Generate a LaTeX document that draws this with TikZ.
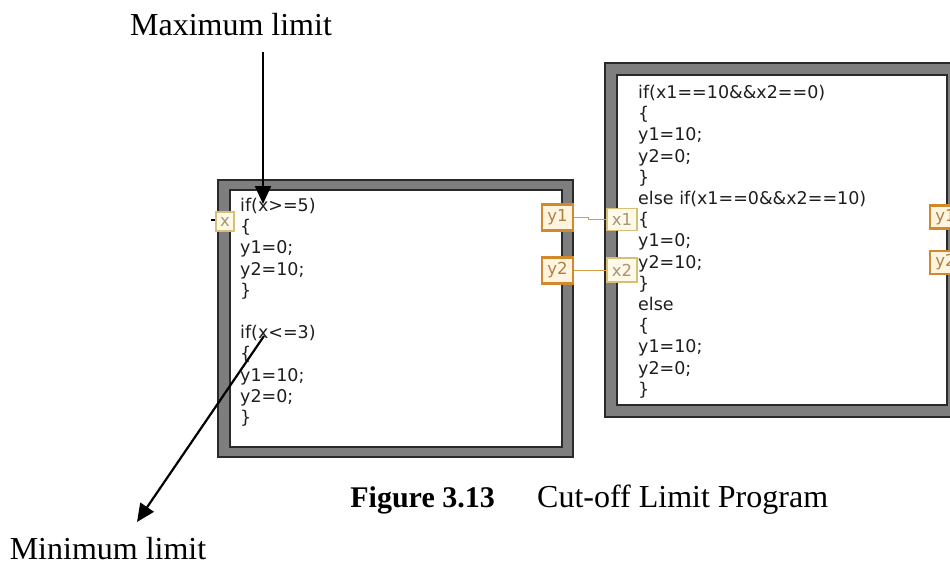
\documentclass[tikz,border=0pt]{standalone}
\usepackage{fontspec}
\setmainfont{Liberation Serif}
\newfontfamily\codefont{DejaVu Sans}
\usetikzlibrary{arrows.meta,calc}
\definecolor{framegray}{HTML}{7E7E7E}
\definecolor{framedark}{HTML}{2A2A2A}
\definecolor{inborder}{HTML}{D9BE78}
\definecolor{infill}{HTML}{FFF9E8}
\definecolor{intext}{HTML}{A89478}
\definecolor{outborder}{HTML}{D2892E}
\definecolor{outfill}{HTML}{FFF4E0}
\definecolor{outtext}{HTML}{B08040}
\definecolor{wirecol}{HTML}{D49E48}
\definecolor{codecol}{HTML}{1E1E1E}
\tikzset{
  framebox/.style={fill=framegray,draw=framedark,line width=1.5pt},
  innerbox/.style={fill=white,draw=framedark,line width=1.5pt},
  code/.style={anchor=north west,inner sep=0pt,align=left,text=codecol,
    font=\codefont\fontsize{17.5}{21.2}\selectfont},
  interm/.style={draw=inborder,fill=infill,line width=1.2pt,text=intext,
    inner sep=0pt,font=\codefont\fontsize{16.5}{16.5}\selectfont},
  outterm/.style={draw=outborder,fill=outfill,line width=2.8pt,text=outtext,
    inner sep=0pt,font=\codefont\fontsize{16.5}{16.5}\selectfont},
  wire/.style={draw=wirecol,line width=1.7pt},
  label/.style={inner sep=0pt,font=\fontsize{32}{36}\selectfont},
  pointer/.style={draw=black,line width=2.2pt,-{Triangle[length=18pt,width=16pt]}}
}
\begin{document}
\begin{tikzpicture}[x=1pt,y=-1pt]
\useasboundingbox (0,0) rectangle (950,565);
\clip (0,0) rectangle (950,565);
% left structure
\draw[framebox] (218,180) rectangle (573,457);
\draw[innerbox] (230,190) rectangle (562,447);
% right structure
\draw[framebox] (605,63) rectangle (962,417);
\draw[innerbox] (617,75) rectangle (947,405);
% code texts
\node[code] (lcode) at (240,198) {if(x>=5)\\ \{\\ y1=0;\\ y2=10;\\ \}\\ \mbox{}\\ if(x<=3)\\ \{\\ y1=10;\\ y2=0;\\ \}};
\node[code] (rcode) at (638,85) {if(x1==10\&\&x2==0)\\ \{\\ y1=10;\\ y2=0;\\ \}\\ else if(x1==0\&\&x2==10)\\ \{\\ y1=0;\\ y2=10;\\ \}\\ else\\ \{\\ y1=10;\\ y2=0;\\ \}};
% terminals
\node[interm,minimum width=18pt,minimum height=19pt] (xin) at (225,221.5) {x};
\node[outterm,minimum width=31pt,minimum height=26pt] (ly1) at (557.5,217.5) {y1};
\node[outterm,minimum width=31pt,minimum height=26pt] (ly2) at (557.5,270.5) {y2};
\node[interm,minimum width=30pt,minimum height=22pt] (rx1) at (622,219.5) {x1};
\node[interm,minimum width=30pt,minimum height=24pt] (rx2) at (622,270) {x2};
\node[outterm,minimum width=31pt,minimum height=23pt] (ry1) at (945.5,217) {y1};
\node[outterm,minimum width=31pt,minimum height=23pt] (ry2) at (945.5,262.5) {y2};
% wires
\coordinate (xstub) at (211,220);
\draw[black,line width=2pt] (xstub) -- (xstub -| xin.west);
\draw[wire] (ly1.east) -- ++(14,0) |- (rx1.west);
\draw[wire] (ly2.east) -- (ly2.east -| rx2.west);
% labels and pointers
\node[label,anchor=base] (maxlab) at (231,35) {Maximum limit};
\node[label,anchor=base] (minlab) at (108,559) {Minimum limit};
\coordinate (maxstart) at (263,52);
\coordinate (maxtip) at (263,204);
\coordinate (minstart) at (264,336);
\coordinate (mintip) at (137,522);
\draw[pointer] (maxstart) -- (maxtip);
\draw[pointer] (minstart) -- (mintip);
% caption
\node[inner sep=0pt,anchor=base east,font=\fontsize{30}{34}\selectfont\bfseries] (capnum) at (495,507) {Figure 3.13};
\node[inner sep=0pt,anchor=base west,font=\fontsize{32}{36}\selectfont] (captext) at (537,507) {Cut-off Limit Program};
\end{tikzpicture}
\end{document}
